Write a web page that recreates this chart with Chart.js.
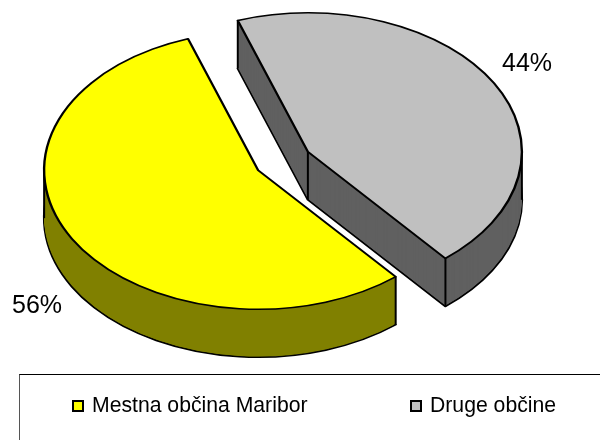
<!DOCTYPE html>
<html>
<head>
<meta charset="utf-8">
<script src="https://cdn.jsdelivr.net/npm/chart.js@4"></script>
<style>
    body { margin: 0; background: #fff; }
    #wrap { position: relative; width: 600px; height: 440px; overflow: hidden; font-family: "Liberation Sans", Arial, sans-serif; }
    #legend { position: absolute; left: 19px; top: 374px; width: 600px; height: 80px; border-top: 1px solid #000; border-left: 1px solid #555; }
    .item { position: absolute; top: 16px; font-size: 21.2px; line-height: 28px; color: #000; white-space: nowrap; }
    .swatch { display: inline-block; width: 8px; height: 8px; border: 2px solid #000; margin-right: 8px; }
</style>
</head>
<body>
<div id="wrap">
    <canvas id="pie" width="600" height="440"></canvas>
    <div id="legend"></div>
</div>
<script>
const categories = ['Mestna občina Maribor', 'Druge občine'];
const shares = [55.8, 44.2];
const topColors = ['#ffff00', '#c0c0c0'];
const sideColors = ['#808000', '#606060'];
const legendLeft = [52, 390];
const labelSpots = [[37, 306], [527, 64]];

const TILT = 0.65;
const DEPTH = 48;
const EXPLODE = 28.6;

// chart.js only does flat pies, so squash the arcs and stack copies for the wall
const pie3d = {
    id: 'pie3d',
    beforeDatasetsDraw(chart) {
        const ctx = chart.ctx;
        const arcs = chart.getDatasetMeta(0).data;

        for (let i = arcs.length - 1; i >= 0; i--) {
            drawSlice(ctx, arcs[i], sideColors[i], topColors[i]);
        }
        ctx.save();
        ctx.fillStyle = '#000';
        ctx.font = '25px "Liberation Sans", Arial, sans-serif';
        ctx.textAlign = 'center';
        ctx.textBaseline = 'middle';
        shares.forEach((v, i) => ctx.fillText(Math.round(v) + '%', labelSpots[i][0], labelSpots[i][1]));
        ctx.restore();
        return false;
    }
};

function drawSlice(ctx, arc, sideColor, topColor) {
    const mid = (arc.startAngle + arc.endAngle) / 2;
    const cx = arc.x + Math.cos(mid) * EXPLODE;
    const cy = arc.y + Math.sin(mid) * EXPLODE * TILT;
    const savedOptions = arc.options;
    const look = (fill, line, width) => ({
        backgroundColor: fill, borderColor: line, borderWidth: width, borderAlign: 'center',
        borderJoinStyle: 'round', borderRadius: 0, borderDash: [], borderDashOffset: 0,
        offset: 0, spacing: 0, circular: true
    });
    const stamp = (dy, options) => {
        ctx.save();
        ctx.translate(cx, cy + dy);
        ctx.scale(1, TILT);
        ctx.translate(-arc.x, -arc.y);
        arc.options = options;
        arc.draw(ctx);
        ctx.restore();
    };

    stamp(DEPTH, look(sideColor, '#000', 2.4));
    for (let dy = DEPTH - 1; dy > 0; dy--) {
        stamp(dy, look(sideColor, sideColor, 0));
    }

    // vertical corners of the wall: slice ends, apex, and the far left/right of the ellipse
    const corners = [[cx, cy]];
    const angles = [arc.startAngle, arc.endAngle];
    [0, Math.PI, Math.PI * 2, Math.PI * 3].forEach(a => {
        if (a > arc.startAngle && a < arc.endAngle) angles.push(a);
    });
    angles.forEach(a => {
        corners.push([cx + Math.cos(a) * arc.outerRadius, cy + Math.sin(a) * arc.outerRadius * TILT]);
    });
    ctx.save();
    ctx.strokeStyle = '#000';
    ctx.lineWidth = 2;
    corners.forEach(([x, y]) => {
        ctx.beginPath();
        ctx.moveTo(x, y);
        ctx.lineTo(x, y + DEPTH);
        ctx.stroke();
    });
    ctx.restore();

    stamp(0, look(topColor, '#000', 2.4));
    arc.options = savedOptions;
}

new Chart(document.getElementById('pie'), {
    type: 'pie',
    data: {
        labels: categories,
        datasets: [{
            data: shares,
            backgroundColor: topColors,
            borderColor: '#000',
            borderWidth: 1,
            radius: 214
        }]
    },
    options: {
        responsive: false,
        animation: false,
        rotation: 140,
        layout: { padding: { right: 34, bottom: 118 } },
        plugins: { legend: { display: false }, tooltip: { enabled: false } }
    },
    plugins: [pie3d]
});

document.getElementById('legend').innerHTML = categories.map((name, i) => `
    <div class="item" style="left:${legendLeft[i]}px"><span class="swatch" style="background:${topColors[i]}"></span>${name}</div>
`).join('');
</script>
</body>
</html>
